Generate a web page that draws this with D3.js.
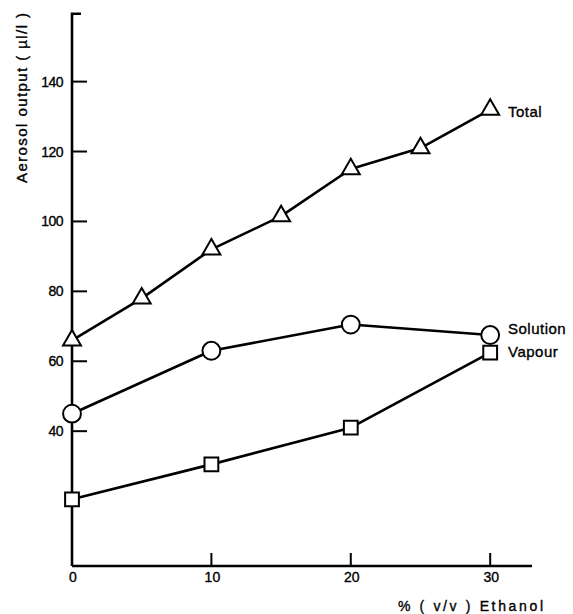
<!DOCTYPE html>
<html>
<head>
<meta charset="utf-8">
<script src="https://cdn.jsdelivr.net/npm/d3@7"></script>
<style>
  html, body { margin: 0; padding: 0; background: #fff; }
  svg { display: block; }
  text { font-family: "Liberation Sans", Arial, sans-serif; fill: #000; stroke: #000; stroke-width: 0.35; }
</style>
</head>
<body>
<script>
// values
const ethanolTotal = [0, 5, 10, 15, 20, 25, 30]
const total = [66, 78, 92, 101.5, 115, 121, 132]
const ethanolSV = [0, 10, 20, 30]
const solution = [45, 63, 70.5, 67.5]
const vapour = [20.5, 30.5, 41, 62.5]
const xTicks = [0, 10, 20, 30]
const yTicks = [40, 60, 80, 100, 120, 140]

const width = 573, height = 614
const svg = d3.select('body').append('svg').attr('width', width).attr('height', height)

const x = d3.scaleLinear().domain([0, 33]).range([72, 532])
const y = d3.scaleLinear().domain([0, 160]).range([571, 11.7])
const baseY = 566   // x-axis sits a touch above zero in the original
const ink = '#000'

// axes
const yAxis = svg.append('g').attr('transform', `translate(${x(0)},0)`)
yAxis.append('path')
    .attr('d', `M9,${y(159.4)}H0V${baseY}`)
    .attr('fill', 'none').attr('stroke', ink).attr('stroke-width', 2.6)
yAxis.selectAll('line.tick').data(yTicks).join('line')
    .attr('x1', 0).attr('x2', 15)
    .attr('y1', d => y(d)).attr('y2', d => y(d))
    .attr('stroke', ink).attr('stroke-width', 2)
yAxis.selectAll('text').data(yTicks).join('text')
    .attr('x', -9).attr('y', d => y(d)).attr('dy', '0.36em')
    .attr('text-anchor', 'end').attr('font-size', 14)
    .attr('letter-spacing', -0.5)
    .text(d => d)

const xAxis = svg.append('g').attr('transform', `translate(0,${baseY})`)
xAxis.append('path')
    .attr('d', `M${x(0)},0H${x(33)}`)
    .attr('fill', 'none').attr('stroke', ink).attr('stroke-width', 2.4)
xAxis.selectAll('line').data(xTicks.filter(d => d > 0)).join('line')
    .attr('x1', d => x(d)).attr('x2', d => x(d))
    .attr('y1', 0).attr('y2', -13)
    .attr('stroke', ink).attr('stroke-width', 2)
xAxis.selectAll('text').data(xTicks).join('text')
    .attr('x', d => x(d) + 1).attr('y', 16)
    .attr('text-anchor', 'middle').attr('font-size', 14)
    .text(d => d)

svg.append('text')
    .attr('x', 398).attr('y', 611)
    .attr('font-size', 14)
    .attr('textLength', 145).attr('lengthAdjust', 'spacing')
    .text('% ( v/v ) Ethanol')

svg.append('text')
    .attr('transform', 'translate(27,183) rotate(-90)')
    .attr('font-size', 15)
    .attr('textLength', 170).attr('lengthAdjust', 'spacing')
    .text('Aerosol output ( µl/l )')

// series
const line = (xs) => d3.line().x((d, i) => x(xs[i])).y(d => y(d))
const series = [
    {xs: ethanolTotal, ys: total, shape: 'tri', name: 'Total'},
    {xs: ethanolSV, ys: solution, shape: 'circle', name: 'Solution'},
    {xs: ethanolSV, ys: vapour, shape: 'square', name: 'Vapour'}
]
const symbols = {
    tri: d3.symbol(d3.symbolTriangle2, 230),
    circle: d3.symbol(d3.symbolCircle, 250),
    square: d3.symbol(d3.symbolSquare, 190)
}

series.forEach(s => {
    svg.append('path').datum(s.ys)
        .attr('d', line(s.xs))
        .attr('fill', 'none').attr('stroke', ink).attr('stroke-width', 2.6)
        .attr('stroke-linejoin', 'round')
})
series.forEach(s => {
    svg.append('g').selectAll('path').data(s.ys).join('path')
        .attr('transform', (d, i) => `translate(${x(s.xs[i])},${y(d)})`)
        .attr('d', symbols[s.shape])
        .attr('fill', '#fff').attr('stroke', ink).attr('stroke-width', 2)
})

// end labels
const labelY = {Total: 112, Solution: 329, Vapour: 352}
series.forEach(s => {
    svg.append('text')
        .attr('x', 508).attr('y', labelY[s.name]).attr('dy', '0.35em')
        .attr('font-size', 15).attr('letter-spacing', 0.5)
        .text(s.name)
})
</script>
</body>
</html>
